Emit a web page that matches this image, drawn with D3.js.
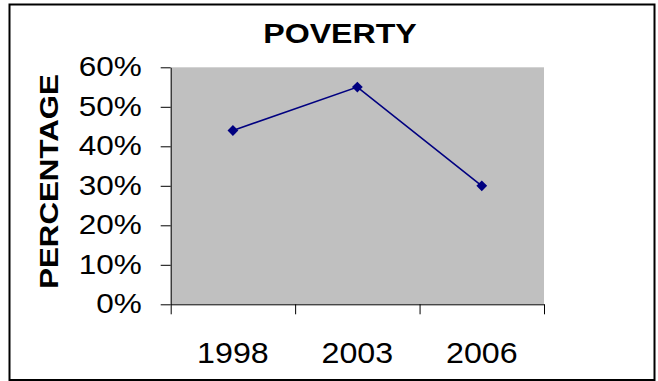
<!DOCTYPE html>
<html>
<head>
<meta charset="utf-8">
<script src="https://cdn.jsdelivr.net/npm/d3@7"></script>
<style>
  body { margin: 0; background: #fff; }
  svg { display: block; font-family: "Liberation Sans", Arial, sans-serif; }
  .axis path, .axis line { stroke: #000; }
</style>
</head>
<body>
<svg id="chart" width="658" height="381"></svg>
<script>
const years = ["1998", "2003", "2006"];
const poverty = [0.44, 0.55, 0.30];
const yTicks = [0, 0.1, 0.2, 0.3, 0.4, 0.5, 0.6];

const svg = d3.select("#chart");
const plot = { left: 170.7, right: 544, top: 67.3, bottom: 304.3 };

// outer frame
svg.append("rect")
  .attr("x", 9.5).attr("y", 4.5)
  .attr("width", 645).attr("height", 375.5)
  .attr("fill", "none").attr("stroke", "#000").attr("stroke-width", 2);

const xScale = d3.scaleBand().domain(years).range([plot.left, plot.right]);
const xEdges = d3.scaleLinear().domain([0, years.length]).range([plot.left, plot.right]);
const yScale = d3.scaleLinear().domain([0, 0.6]).range([plot.bottom, plot.top]);

svg.append("rect")
  .attr("x", plot.left).attr("y", plot.top)
  .attr("width", plot.right - plot.left).attr("height", plot.bottom - plot.top)
  .attr("fill", "#c0c0c0");

// stretch text to the measured widths of the original
const stretch = (sel, k) => sel.each(function () {
  const w = this.getComputedTextLength();
  d3.select(this).attr("textLength", w * k).attr("lengthAdjust", "spacingAndGlyphs");
});

// y axis
const yAxis = d3.axisLeft(yScale).tickValues(yTicks).tickFormat(d3.format(".0%"))
  .tickSize(10).tickSizeOuter(0).tickPadding(19);
svg.append("g").attr("class", "axis").attr("id", "vAxis")
  .attr("transform", `translate(${plot.left},0)`)
  .call(yAxis)
  .call(g => g.selectAll("text").attr("font-size", 27).attr("fill", "#000")
    .attr("font-family", "Liberation Sans, Arial, sans-serif").call(stretch, 1.167));

// x axis: boundary ticks
const xTickAxis = d3.axisBottom(xEdges).tickValues(d3.range(years.length + 1))
  .tickSize(10).tickSizeOuter(0).tickFormat("");
svg.append("g").attr("class", "axis").attr("id", "hAxis")
  .attr("transform", `translate(0,${plot.bottom})`)
  .call(xTickAxis);

// x axis: category labels
const xLabelAxis = d3.axisBottom(xScale).tickSize(0).tickPadding(37.7);
svg.append("g").attr("class", "axis")
  .attr("transform", `translate(0,${plot.bottom})`)
  .call(xLabelAxis)
  .call(g => g.select(".domain").remove())
  .call(g => g.selectAll("text").attr("font-size", 30).attr("fill", "#000")
    .attr("font-family", "Liberation Sans, Arial, sans-serif").call(stretch, 1.073));

// series
const pts = years.map((y, i) => [xScale(y) + xScale.bandwidth() / 2, yScale(poverty[i])]);
svg.append("path")
  .attr("d", d3.line()(pts))
  .attr("fill", "none").attr("stroke", "#000080").attr("stroke-width", 1.6);

svg.selectAll(".marker").data(pts).join("path")
  .attr("class", "marker")
  .attr("d", d3.symbol(d3.symbolSquare, 58)())
  .attr("transform", d => `translate(${d[0]},${d[1]}) rotate(45)`)
  .attr("fill", "#000080");

// title
svg.append("text")
  .attr("x", 340).attr("y", 43.3)
  .attr("text-anchor", "middle")
  .attr("font-size", 27).attr("font-weight", "bold")
  .text("POVERTY")
  .call(stretch, 1.19);

// y axis title
svg.append("text")
  .attr("transform", "translate(58,181.5) rotate(-90)")
  .attr("text-anchor", "middle")
  .attr("font-size", 25).attr("font-weight", "bold")
  .text("PERCENTAGE")
  .call(stretch, 1.25);
</script>
</body>
</html>
